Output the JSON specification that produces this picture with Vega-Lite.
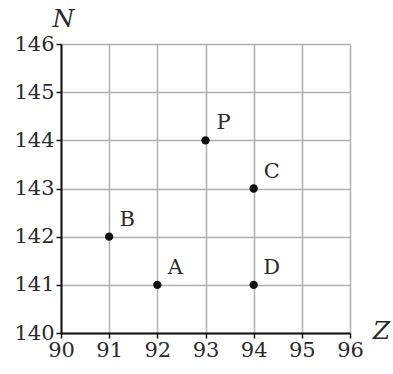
{
  "$schema": "https://vega.github.io/schema/vega-lite/v6.json",
  "width": 289,
  "height": 289,
  "autosize": "none",
  "padding": {"left": 61, "top": 44, "right": 43, "bottom": 41},
  "background": "white",
  "data": {"values": [
    {"name": "P", "Z": 93, "N": 144},
    {"name": "C", "Z": 94, "N": 143},
    {"name": "B", "Z": 91, "N": 142},
    {"name": "A", "Z": 92, "N": 141},
    {"name": "D", "Z": 94, "N": 141}
  ]},
  "config": {
    "view": {"stroke": null},
    "axis": {
      "labelFont": "DejaVu Serif",
      "labelFontSize": 21,
      "labelColor": "#2a2a2a",
      "labelFlush": false,
      "labelOverlap": false,
      "titleFont": "DejaVu Serif",
      "titleFontSize": 25,
      "titleFontStyle": "italic",
      "titleFontWeight": "normal",
      "titleColor": "#2a2a2a",
      "domainColor": "#111",
      "domainWidth": 2,
      "tickColor": "#111",
      "tickWidth": 1.5,
      "tickSize": 5,
      "gridColor": "#b0b0b0",
      "gridWidth": 1.5,
      "gridOpacity": 1
    }
  },
  "layer": [
    {
      "mark": {"type": "point", "filled": true, "color": "#111", "size": 70, "opacity": 1},
      "encoding": {
        "x": {"field": "Z", "type": "quantitative",
          "scale": {"domain": [90, 96], "nice": false, "zero": false},
          "axis": {"values": [90, 91, 92, 93, 94, 95, 96], "format": "d", "title": "Z",
            "titleAngle": 0, "titleX": 320, "titleY": -3, "titleBaseline": "middle", "titleAlign": "center",
            "labelPadding": 1}},
        "y": {"field": "N", "type": "quantitative",
          "scale": {"domain": [140, 146], "nice": false, "zero": false},
          "axis": {"values": [140, 141, 142, 143, 144, 145, 146], "format": "d", "title": "N",
            "titleAngle": 0, "titleX": 2, "titleY": -26, "titleBaseline": "middle", "titleAlign": "center",
            "labelPadding": 2}}
      }
    },
    {
      "mark": {"type": "text", "font": "DejaVu Serif", "fontSize": 21, "color": "#2a2a2a", "dx": 18, "dy": -17, "align": "center", "baseline": "middle"},
      "encoding": {
        "x": {"field": "Z", "type": "quantitative"},
        "y": {"field": "N", "type": "quantitative"},
        "text": {"field": "name"}
      }
    }
  ]
}
